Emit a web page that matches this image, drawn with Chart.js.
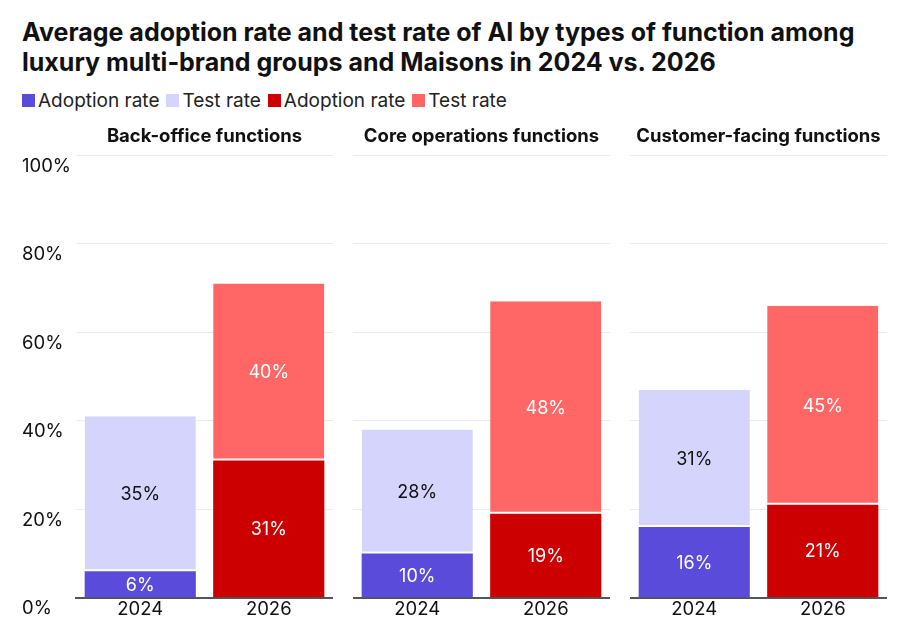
<!DOCTYPE html>
<html>
<head>
<meta charset="utf-8">
<script src="https://cdn.jsdelivr.net/npm/chart.js@4.4.1/dist/chart.umd.min.js"></script>
<style>
  html, body { margin: 0; padding: 0; background: #fff; }
  body { width: 900px; height: 643px; position: relative; overflow: hidden; font-family: Inter, "Noto Sans", sans-serif; color: #111; }
  #title { position: absolute; left: 22px; top: 17px; font-size: 25px; font-weight: 700; line-height: 30px; letter-spacing: 0; color: #111; }
  #legend { position: absolute; left: 22px; top: 89px; font-size: 19px; display: flex; align-items: center; color: #222; }
  #legend span.sw { display: inline-block; width: 13px; height: 13px; margin-right: 3px; }
  #legend span.item { display: inline-flex; align-items: center; margin-right: 7px; }
  .panel { position: absolute; top: 118px; height: 504px; }
</style>
</head>
<body>
<div id="title">Average adoption rate and test rate of AI by types of function among<br>luxury multi-brand groups and Maisons in 2024 vs. 2026</div>
<div id="legend"></div>
<div class="panel" style="left:22px;width:311px;"><canvas id="c0"></canvas></div>
<div class="panel" style="left:353px;width:257px;"><canvas id="c1"></canvas></div>
<div class="panel" style="left:630px;width:257px;"><canvas id="c2"></canvas></div>
<script>
const years = ["2024", "2026"];
const panels = ["Back-office functions", "Core operations functions", "Customer-facing functions"];
const adoption = [[6, 31], [10, 19], [16, 21]];
const test = [[35, 40], [28, 48], [31, 45]];
const yTicks = [0, 20, 40, 60, 80, 100];
const legendLabels = ["Adoption rate", "Test rate", "Adoption rate", "Test rate"];

const cAdopt = ["#5b4bdb", "#cc0000"];
const cTest = ["#d4d4fc", "#ff6666"];
const labelColAdopt = ["#ffffff", "#ffffff"];
const labelColTest = ["#111111", "#ffffff"];

const legendColors = [cAdopt[0], cTest[0], cAdopt[1], cTest[1]];
const lg = document.getElementById('legend');
legendLabels.forEach((t, i) => {
  const it = document.createElement('span'); it.className = 'item';
  const sw = document.createElement('span'); sw.className = 'sw'; sw.style.background = legendColors[i];
  it.appendChild(sw); it.appendChild(document.createTextNode(t)); lg.appendChild(it);
});

const FONT = 'Inter, "Noto Sans", sans-serif';

const barLabels = {
  id: 'barLabels',
  afterDatasetsDraw(chart) {
    const ctx = chart.ctx;
    ctx.save();
    ctx.font = '18px ' + FONT;
    ctx.textAlign = 'center';
    ctx.textBaseline = 'middle';
    chart.data.datasets.forEach((ds, di) => {
      const meta = chart.getDatasetMeta(di);
      meta.data.forEach((bar, i) => {
        const v = ds.data[i];
        const p = bar.getProps(['x', 'y', 'base'], true);
        ctx.fillStyle = ds.labelColors[i];
        ctx.fillText(v + '%', p.x, (p.y + p.base) / 2 + 1);
      });
    });
    ctx.restore();
  }
};

panels.forEach((name, k) => {
  const first = k === 0;
  new Chart(document.getElementById('c' + k), {
    type: 'bar',
    data: {
      labels: years,
      datasets: [
        { label: 'Adoption rate', data: adoption[k], backgroundColor: cAdopt, labelColors: labelColAdopt, borderWidth: 0 },
        { label: 'Test rate', data: test[k], backgroundColor: cTest, labelColors: labelColTest, borderColor: '#ffffff', borderWidth: { bottom: 2 }, borderSkipped: false }
      ]
    },
    options: {
      responsive: true,
      maintainAspectRatio: false,
      animation: false,
      datasets: { bar: { barPercentage: 0.865, categoryPercentage: 1 } },
      layout: { padding: { left: 0, right: 0, top: 0, bottom: 0 } },
      plugins: {
        legend: { display: false },
        tooltip: { enabled: false },
        title: {
          display: true, text: name, color: '#111', fullSize: false,
          font: { family: FONT, size: 18.5, weight: '700' },
          padding: { top: 7, bottom: 8 }
        }
      },
      scales: {
        x: {
          stacked: true,
          grid: { display: false, drawTicks: false },
          border: { display: true, color: '#555', width: 2 },
          ticks: { color: '#111', font: { family: FONT, size: 18.5 }, padding: 1 }
        },
        y: {
          stacked: true, min: 0, max: 100,
          afterBuildTicks(scale) { scale.ticks = yTicks.map(v => ({ value: v })); },
          afterFit(scale) { scale.width = first ? 54 : 0; },
          grid: { color: '#ececec', lineWidth: 1, drawTicks: false },
          border: { display: false },
          ticks: {
            display: first, color: '#111', font: { family: FONT, size: 18.5 },
            crossAlign: 'far', padding: 0, labelOffset: 11,
            callback: v => v + '%'
          }
        }
      }
    },
    plugins: [barLabels]
  });
});
</script>
</body>
</html>
